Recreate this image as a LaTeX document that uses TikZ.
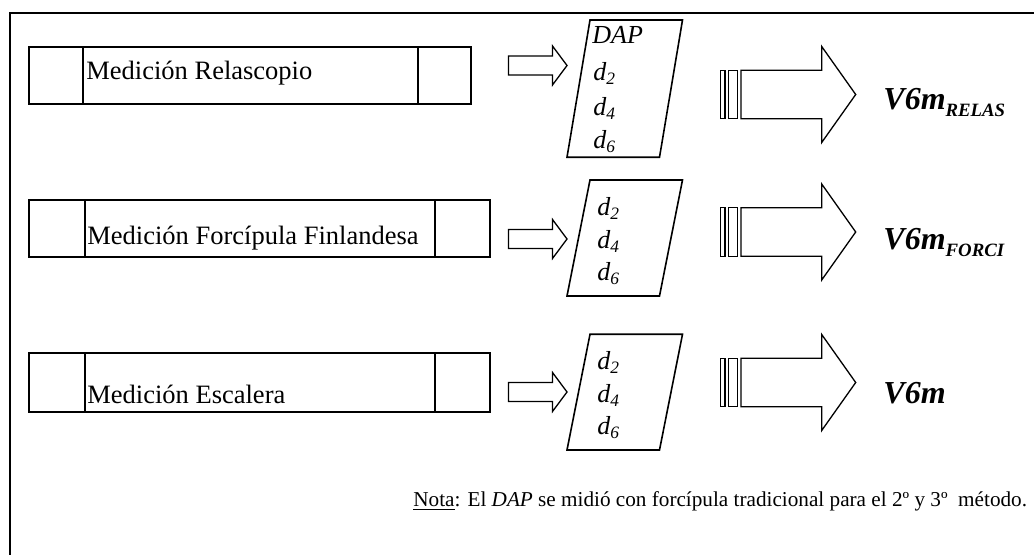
\documentclass[tikz,border=0pt]{standalone}
\usepackage{fontspec}
\setmainfont{Liberation Serif}
% subscripted diameter labels: d_2, d_4, d_6
\newcommand{\diam}[1]{\textit{d\raisebox{-1.8pt}{\fontsize{8.7}{9}\selectfont #1}}}
% bold italic volume label with a lowered subscript
\newcommand{\vol}[1]{{\fontsize{16}{18}\selectfont\bfseries\itshape V6m}{\fontsize{9.4}{10}\selectfont\bfseries\itshape\raisebox{-3.2pt}{#1}}}
\tikzset{
  frameline/.style={line width=1.15pt},
  boxline/.style={line width=0.8pt},
  parline/.style={line width=0.8pt},
  arrowline/.style={line width=0.65pt, line join=miter},
  boxtext/.style={anchor=base west, inner sep=0pt, font=\fontsize{13.25}{15}\selectfont},
  listtext/.style={anchor=base west, inner sep=0pt, font=\fontsize{13}{15}\selectfont\itshape},
  voltext/.style={anchor=base west, inner sep=0pt},
  notetext/.style={anchor=base west, inner sep=0pt, font=\fontsize{10.6}{12}\selectfont},
}
\begin{document}
\begin{tikzpicture}[x=0.5pt,y=-0.5pt]
\useasboundingbox (0,0) rectangle (1034,555);
\fill[white] (0,0) rectangle (1034,555);

% outer frame (runs off the right and bottom edges)
\draw[frameline] (10,556) -- (10,13) -- (1035,13);

% measurement boxes with end compartments
\draw[boxline] (29,47) rectangle (471,104) (83,47) -- (83,104) (418,47) -- (418,104);
\draw[boxline] (29,200) rectangle (490,257) (85,200) -- (85,257) (435,200) -- (435,257);
\draw[boxline] (29,353) rectangle (490,412) (85,353) -- (85,412) (435,353) -- (435,412);
\node[boxtext] (m1) at (86,80) {Medición Relascopio};
\node[boxtext] (m2) at (87,245) {Medición Forcípula Finlandesa};
\node[boxtext] (m3) at (87,404) {Medición Escalera};

% small block arrows
\foreach \c in {65.5,239,392}{
  \draw[arrowline] (508.5,{\c-9.5}) -- (552.5,{\c-9.5}) -- (552.5,{\c-19.5}) -- (567,\c)
    -- (552.5,{\c+19.5}) -- (552.5,{\c+9.5}) -- (508.5,{\c+9.5}) -- cycle;
}

% data parallelograms
\foreach \t/\b in {20/157.3,180/296,334.3/450}{
  \draw[parline] (590,\t) -- (682.5,\t) -- (659.5,\b) -- (567,\b) -- cycle;
}
\node[listtext] (p1a) at (592,44) {DAP};
\node[listtext] (p1b) at (593,81) {\diam{2}};
\node[listtext] (p1c) at (593,116) {\diam{4}};
\node[listtext] (p1d) at (593,149) {\diam{6}};
\node[listtext] (p2a) at (597,215.7) {\diam{2}};
\node[listtext] (p2b) at (597,248.7) {\diam{4}};
\node[listtext] (p2c) at (597,280.7) {\diam{6}};
\node[listtext] (p3a) at (597,370) {\diam{2}};
\node[listtext] (p3b) at (597,403) {\diam{4}};
\node[listtext] (p3c) at (597,435) {\diam{6}};

% large striped block arrows
\foreach \c in {94.5,232,382.5}{
  \draw[arrowline] (720.7,{\c-24.2}) rectangle (725,{\c+24.2});
  \draw[arrowline] (728.3,{\c-24.2}) rectangle (737.7,{\c+24.2});
  \draw[arrowline] (741,{\c-24.2}) -- (821.7,{\c-24.2}) -- (821.7,{\c-48}) -- (855.7,\c)
    -- (821.7,{\c+48}) -- (821.7,{\c+24.2}) -- (741,{\c+24.2}) -- cycle;
}

% resulting volumes
\node[voltext] (v1) at (883,110) {\vol{RELAS}};
\node[voltext] (v2) at (883,250) {\vol{FORCI}};
\node[voltext] (v3) at (883,403.3) {{\fontsize{16}{18}\selectfont\bfseries\itshape V6m}};

% note
\node[notetext] (nota) at (413,506.7) {\underline{Nota}: El \textit{DAP} se midió con forcípula tradicional para el 2º y 3º\ \ método.};
\end{tikzpicture}
\end{document}
